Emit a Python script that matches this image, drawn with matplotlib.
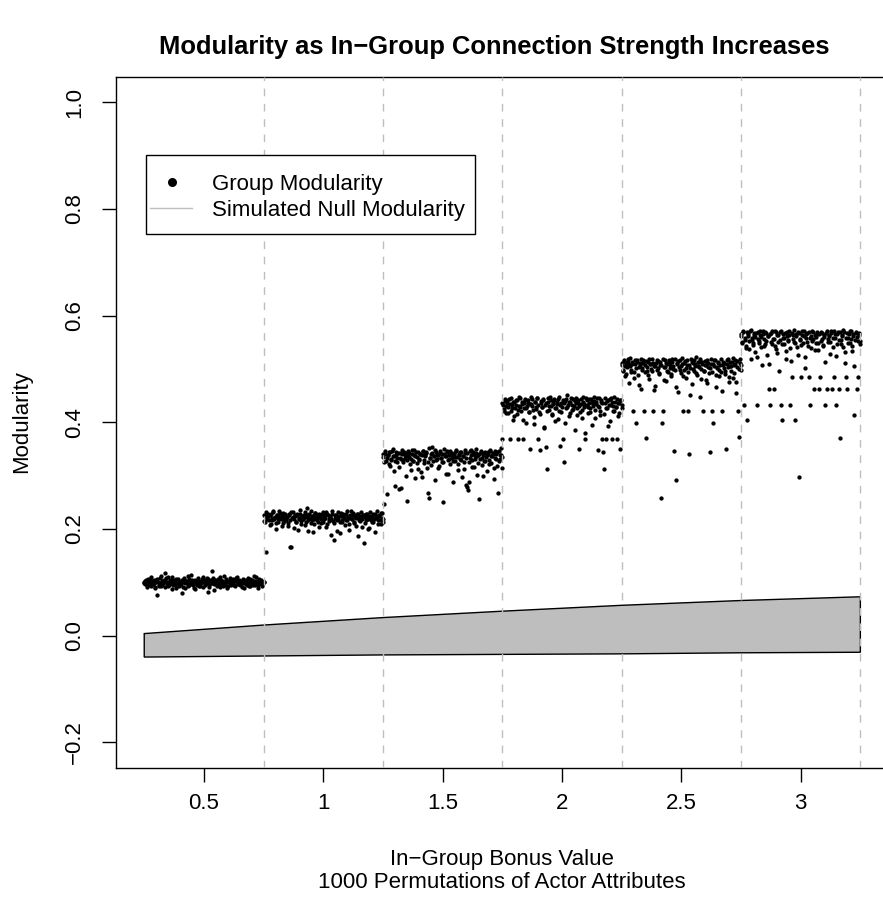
import numpy as np
import matplotlib
matplotlib.use("Agg")
import matplotlib.pyplot as plt
from matplotlib.patches import Rectangle
from matplotlib.lines import Line2D

plt.rcParams['font.family'] = ['Liberation Sans', 'DejaVu Sans']

# In-group bonus values (one group of permutations per value)
bonus = [0.5, 1.0, 1.5, 2.0, 2.5, 3.0]

# Group modularity (in thousandths), left to right in each bin
mod_05 = [101, 97, 104, 95, 102, 99, 106, 93, 100, 103, 98, 91, 105, 76, 101, 96, 108, 94, 102, 99,
          104, 117, 100, 97, 110, 95, 101, 98, 88, 104, 100, 96, 107, 99, 102, 93, 101, 97, 80, 105,
          100, 90, 103, 98, 112, 95, 101, 99, 104, 96, 102, 87, 100, 97, 103, 94, 101, 99, 106, 92,
          100, 104, 98, 109, 82, 95, 102, 99, 121, 101, 86, 105, 97, 100, 103, 96, 111, 99, 102, 94,
          101, 98, 106, 100, 93, 103, 99, 97, 104, 101, 95, 108, 100, 98, 102, 96, 103, 99, 101, 89,
          105, 97, 100, 102, 94, 107, 99, 101, 96, 103, 98, 110, 100, 95, 104, 99, 102, 97, 101, 100]
mod_10 = [215, 224, 157, 220, 228, 217, 226, 209, 221, 231, 219, 223, 200, 227, 214, 222, 230, 218, 225, 211,
          221, 229, 216, 223, 205, 226, 167, 166, 220, 232, 218, 224, 213, 227, 198, 221, 229, 215, 223, 219,
          226, 207, 222, 239, 217, 228, 220, 212, 225, 194, 219, 230, 222, 216, 227, 203, 223, 218, 229, 214,
          224, 220, 231, 210, 226, 218, 222, 189, 228, 215, 179, 221, 227, 196, 219, 224, 213, 230, 217, 225,
          222, 208, 228, 216, 223, 199, 220, 234, 218, 226, 212, 224, 221, 229, 186, 217, 225, 220, 204, 227,
          174, 223, 216, 229, 219, 202, 225, 221, 214, 228, 218, 195, 224, 222, 209, 227, 217, 230, 220, 213]
mod_15 = [335, 247, 341, 328, 266, 338, 344, 318, 331, 347, 336, 309, 280, 339, 326, 343, 275, 333, 277, 340,
          329, 345, 334, 300, 252, 337, 342, 321, 332, 348, 327, 339, 296, 344, 335, 313, 330, 341, 306, 338,
          346, 324, 336, 343, 315, 267, 258, 333, 340, 354, 328, 337, 292, 345, 331, 339, 319, 342, 334, 326,
          251, 341, 336, 304, 347, 330, 338, 322, 343, 333, 289, 340, 327, 346, 335, 311, 339, 331, 344, 298,
          337, 325, 342, 282, 279, 273, 288, 334, 348, 329, 340, 317, 336, 343, 302, 338, 256, 332, 345, 320,
          339, 327, 344, 335, 308, 341, 330, 347, 323, 337, 342, 294, 333, 340, 318, 267, 346, 331, 338, 314]
mod_20 = [369, 432, 425, 440, 418, 436, 428, 444, 369, 421, 433, 405, 438, 426, 441, 415, 369, 430, 446, 422,
          435, 369, 427, 442, 398, 431, 437, 419, 350, 434, 443, 424, 410, 439, 429, 445, 369, 420, 348, 436,
          428, 441, 392, 433, 354, 312, 438, 423, 447, 430, 416, 436, 441, 402, 427, 434, 443, 421, 356, 437,
          429, 369, 325, 440, 426, 451, 433, 412, 438, 424, 444, 431, 385, 436, 427, 442, 350, 420, 435, 408,
          439, 428, 369, 445, 432, 418, 437, 426, 443, 395, 431, 440, 423, 434, 446, 348, 429, 414, 438, 369,
          344, 312, 436, 369, 427, 441, 433, 403, 445, 369, 430, 422, 439, 428, 369, 437, 417, 350, 442, 432]
mod_25 = [508, 497, 515, 486, 511, 503, 519, 474, 506, 499, 513, 421, 494, 509, 399, 517, 488, 504, 512, 463,
          501, 516, 421, 507, 371, 496, 514, 482, 510, 500, 518, 421, 505, 469, 511, 498, 515, 491, 508, 258,
          399, 421, 503, 517, 478, 509, 495, 513, 501, 486, 519, 506, 346, 498, 292, 512, 457, 504, 516, 493,
          510, 421, 499, 515, 484, 507, 421, 340, 502, 518, 472, 511, 496, 509, 522, 489, 505, 514, 448, 500,
          513, 421, 497, 508, 480, 516, 503, 493, 344, 510, 421, 399, 506, 517, 466, 501, 512, 487, 508, 495,
          421, 514, 502, 490, 350, 509, 519, 476, 505, 497, 513, 484, 507, 516, 455, 503, 421, 372, 511, 498]
mod_30 = [561, 548, 569, 432, 555, 540, 404, 566, 552, 571, 519, 558, 545, 563, 531, 568, 432, 556, 549, 572,
          560, 508, 565, 543, 570, 553, 526, 562, 462, 432, 567, 547, 557, 462, 571, 538, 564, 551, 497, 569,
          432, 404, 559, 546, 568, 534, 561, 554, 572, 432, 515, 485, 563, 550, 404, 566, 542, 570, 297, 557,
          485, 564, 548, 571, 523, 559, 567, 544, 485, 432, 562, 553, 569, 462, 536, 560, 566, 549, 462, 485,
          570, 556, 545, 563, 432, 568, 462, 551, 561, 528, 572, 462, 558, 485, 565, 432, 547, 569, 462, 371,
          554, 563, 541, 570, 512, 485, 462, 559, 566, 548, 571, 533, 561, 413, 555, 568, 462, 485, 564, 552]

# second pass of permutations, mostly the dense core of each band
mod_05b = [98, 103, 92, 107, 100, 95, 110, 97, 104, 90, 101, 106, 94, 99, 112, 96, 102, 91, 108, 100,
           93, 105, 99, 111, 96, 103, 89, 101, 107, 95, 100, 104, 92, 109, 98, 102, 94, 106, 97, 113,
           101, 90, 105, 99, 96, 108, 93, 103, 100, 111, 95, 102, 98, 106, 91, 104, 99, 109, 97, 101,
           94, 107, 100, 92, 105, 98, 112, 96, 103, 90, 101, 108, 95, 99, 106, 93, 102, 110, 97, 104,
           100, 91, 107, 98, 103, 95, 109, 101, 94, 105, 99, 112, 96, 102, 89, 106, 98, 104, 93, 100]
mod_10b = [226, 213, 231, 219, 224, 208, 229, 216, 233, 221, 211, 227, 218, 234, 223, 206, 230, 215, 225, 220,
           212, 228, 217, 232, 222, 201, 226, 214, 229, 219, 235, 210, 224, 218, 231, 213, 227, 197, 221, 233,
           216, 225, 209, 230, 220, 214, 228, 223, 211, 232, 218, 226, 204, 229, 215, 224, 219, 234, 212, 227,
           221, 217, 231, 192, 225, 213, 229, 220, 216, 233, 222, 210, 227, 218, 230, 214, 224, 206, 228, 221,
           215, 232, 219, 226, 211, 229, 223, 200, 231, 217, 225, 213, 228, 220, 234, 216, 224, 209, 230, 219]
mod_15b = [341, 326, 347, 333, 339, 322, 344, 330, 350, 336, 328, 345, 334, 316, 342, 331, 348, 325, 338, 343,
           329, 346, 335, 310, 341, 327, 349, 337, 323, 344, 332, 340, 297, 347, 330, 338, 345, 326, 351, 334,
           320, 342, 336, 348, 329, 339, 314, 346, 333, 341, 325, 350, 337, 344, 303, 331, 347, 338, 327, 343,
           335, 349, 321, 340, 345, 330, 336, 312, 348, 333, 342, 326, 346, 339, 317, 344, 331, 350, 337, 324,
           341, 347, 334, 299, 343, 328, 338, 345, 322, 349, 336, 340, 315, 346, 332, 344, 327, 339, 351, 335]
mod_20b = [437, 421, 444, 430, 440, 417, 435, 446, 426, 439, 411, 433, 442, 424, 447, 429, 438, 404, 436, 443,
           427, 441, 419, 434, 448, 431, 396, 439, 425, 445, 433, 416, 440, 428, 444, 389, 437, 422, 446, 430,
           441, 413, 435, 443, 426, 439, 407, 447, 432, 420, 442, 436, 399, 444, 429, 438, 418, 445, 433, 425,
           440, 446, 414, 437, 431, 443, 423, 448, 435, 380, 441, 428, 444, 419, 438, 434, 447, 409, 439, 430,
           445, 422, 442, 436, 415, 446, 427, 440, 393, 443, 433, 438, 421, 447, 429, 444, 412, 437, 441, 426]
mod_25b = [512, 498, 517, 505, 491, 514, 508, 520, 495, 510, 483, 516, 502, 513, 470, 507, 519, 499, 511, 494,
           515, 504, 488, 518, 509, 497, 512, 461, 506, 516, 501, 493, 514, 508, 519, 479, 503, 511, 496, 517,
           507, 490, 513, 500, 518, 467, 509, 515, 498, 505, 520, 486, 511, 502, 516, 494, 508, 452, 513, 500,
           517, 506, 492, 514, 503, 519, 481, 510, 497, 515, 507, 473, 512, 501, 518, 495, 509, 516, 489, 504,
           514, 499, 519, 458, 508, 511, 496, 517, 503, 485, 513, 506, 520, 492, 510, 475, 515, 500, 518, 507]
mod_30b = [566, 551, 571, 558, 544, 569, 562, 537, 573, 555, 548, 567, 560, 522, 570, 553, 564, 541, 572, 557,
           546, 568, 561, 509, 565, 550, 571, 556, 543, 569, 530, 563, 554, 572, 547, 566, 559, 518, 570, 552,
           564, 540, 568, 557, 573, 549, 561, 527, 567, 555, 545, 571, 562, 501, 566, 551, 569, 558, 539, 572,
           556, 563, 548, 570, 535, 565, 553, 568, 544, 560, 514, 571, 557, 564, 550, 567, 541, 572, 559, 525,
           566, 554, 569, 546, 562, 573, 532, 558, 567, 549, 571, 556, 543, 565, 505, 570, 560, 552, 568, 547]

group_mods = [mod_05, mod_10, mod_15, mod_20, mod_25, mod_30]
group_mods_b = [mod_05b, mod_10b, mod_15b, mod_20b, mod_25b, mod_30b]

# Simulated null modularity band (upper / lower bound)
null_x = [0.25, 0.75, 1.25, 1.75, 2.25, 2.75, 3.25]
null_upper = [0.004, 0.020, 0.034, 0.046, 0.057, 0.066, 0.073]
null_lower = [-0.040, -0.038, -0.036, -0.035, -0.034, -0.032, -0.031]

xticks = [0.5, 1.0, 1.5, 2.0, 2.5, 3.0]
xtick_labels = ['0.5', '1', '1.5', '2', '2.5', '3']
yticks = [-0.2, 0.0, 0.2, 0.4, 0.6, 0.8, 1.0]
ytick_labels = ['\u22120.2', '0.0', '0.2', '0.4', '0.6', '0.8', '1.0']
dividers = [0.75, 1.25, 1.75, 2.25, 2.75, 3.25]

W, H = 883, 906
fig = plt.figure(figsize=(W / 100, H / 100), dpi=100)
ax = fig.add_axes([0.1309, 0.1523, 0.8759, 0.7631])

# points spread across each bonus bin
for b, va, vb in zip(bonus, group_mods, group_mods_b):
    for vals in (va, vb):
        y = np.array(vals) / 1000.0
        x = np.linspace(b - 0.25, b + 0.25, len(y))
        ax.plot(x, y, 'o', ms=3.1, color='black', mew=0, zorder=3)

# null band
px = null_x + null_x[::-1]
py = null_upper + null_lower[::-1]
ax.fill(px, py, facecolor='#BEBEBE', edgecolor='black', lw=1.0, zorder=2)

for d in dividers:
    ax.axvline(d, color='#BEBEBE', lw=1.0, ls=(0, (5.5, 5.5)), zorder=4)

ax.set_xlim(0.13, 3.37)
ax.set_ylim(-0.248, 1.048)
ax.set_xticks(xticks)
ax.set_xticklabels(xtick_labels)
ax.set_yticks(yticks)
ax.set_yticklabels(ytick_labels, rotation=90, va='center')
ax.tick_params(axis='both', length=10, width=1.0, labelsize=16, direction='out')
ax.tick_params(axis='x', pad=8)
ax.tick_params(axis='y', pad=12)
for s in ax.spines.values():
    s.set_linewidth(1.0)
    s.set_color('black')

fig.text(494 / W, 1 - 47 / H, 'Modularity as In\u2212Group Connection Strength Increases',
         ha='center', va='center', fontsize=18.4, fontweight='bold')
fig.text(502 / W, 1 - 860 / H, 'In\u2212Group Bonus Value', ha='center', va='center', fontsize=16)
fig.text(502 / W, 1 - 883 / H, '1000 Permutations of Actor Attributes', ha='center', va='center', fontsize=16)
fig.text(22 / W, 1 - 422 / H, 'Modularity', rotation=90, ha='center', va='center', fontsize=16)

# legend box drawn by hand, R style
tf = fig.transFigure
fig.patches.append(Rectangle((146 / W, 1 - 234 / H), (475 - 146) / W, (234 - 155) / H,
                             transform=tf, facecolor='white', edgecolor='black', lw=1.0, zorder=5))
fig.lines.append(Line2D([172 / W], [1 - 182 / H], transform=tf, marker='o', ms=6.5,
                        color='black', mew=0, ls='none', zorder=6))
fig.lines.append(Line2D([150 / W, 192 / W], [1 - 208 / H, 1 - 208 / H], transform=tf,
                        color='#BEBEBE', lw=1.0, zorder=6))
fig.text(212 / W, 1 - 190 / H, 'Group Modularity', ha='left', va='baseline', fontsize=16, zorder=6)
fig.text(212 / W, 1 - 216 / H, 'Simulated Null Modularity', ha='left', va='baseline', fontsize=16, zorder=6)

fig.savefig('out.png', dpi=100)
